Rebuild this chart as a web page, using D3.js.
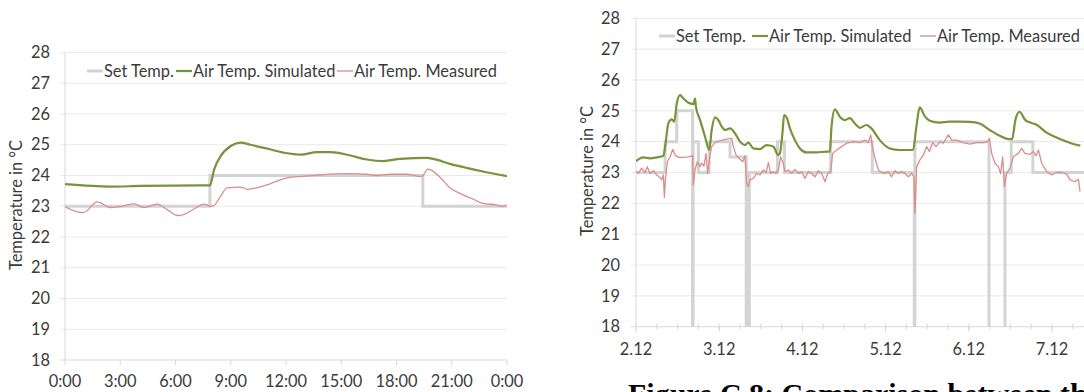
<!DOCTYPE html>
<html><head><meta charset="utf-8">
<script src="https://cdn.jsdelivr.net/npm/d3@7"></script>
<style>html,body{margin:0;padding:0;background:#fff;overflow:hidden}</style>
</head><body>
<svg id="c" width="1084" height="392"></svg>
<script>
// ---------- DATA ----------
const seriesNames = ["Set Temp.", "Air Temp. Simulated", "Air Temp. Measured"];
const yTicks = [18,19,20,21,22,23,24,25,26,27,28];
const leftTickLabels = ["0:00","3:00","6:00","9:00","12:00","15:00","18:00","21:00","0:00"];
const rightTickLabels = ["2.12","3.12","4.12","5.12","6.12","7.12"];

// Left chart (one day, hours)
const leftSetHour = [0, 7.87, 19.43, 24];
const leftSetTemp = [23, 24, 23, 23];
const leftSimHour = [0,2.5,4.1,7.4,7.87,8.1,8.45,9.0,9.53,10.07,11.0,11.9,12.8,13.7,14.4,15.5,16.4,17.3,18.2,19.65,20.0,20.9,21.8,22.7,24.0];
const leftSimTemp = [23.72,23.64,23.66,23.68,23.68,24.2,24.63,24.96,25.07,25.0,24.87,24.74,24.68,24.76,24.76,24.65,24.52,24.47,24.54,24.57,24.54,24.38,24.25,24.13,23.98];
const leftMeasHour = [0,0.67,1.03,1.75,2.48,3.0,3.74,4.28,5.0,5.55,6.1,6.4,7.0,7.54,7.9,8.08,8.45,8.8,9.53,9.9,10.4,11.0,11.5,12.06,12.8,13.7,14.6,15.5,16.4,16.9,17.7,18.6,19.1,19.38,19.7,19.93,20.4,20.9,21.5,22.2,22.7,23.45,23.7,24.0];
const leftMeasTemp = [22.98,22.82,22.8,23.14,22.96,22.99,23.08,22.96,23.07,22.89,22.7,22.72,22.91,23.07,23.0,23.02,23.33,23.6,23.62,23.55,23.6,23.7,23.82,23.92,23.97,24.01,24.05,24.06,24.04,24.0,24.04,24.04,23.98,23.97,24.21,24.16,23.92,23.6,23.4,23.22,23.09,23.04,23.0,23.04];

// Right chart (days after 2.12); setpoint "off" periods drop below the axis range
const rightSetDay  = [0,0.35,0.49,0.68,0.686,0.75,0.88,1.13,1.325,1.362,1.70,1.785,2.34,2.84,3.345,3.352,4.243,4.435,4.51,4.77,6];
const rightSetTemp = [23,24,25,15,24,23,24,23.5,15,23,24,23,24,23,15,24,15,23,24,23,23];
const rightSimDay  = [0,0.088,0.168,0.248,0.33,0.35,0.39,0.43,0.46,0.49,0.53,0.57,0.63,0.69,0.71,0.72,0.77,0.83,0.88,0.91,0.95,0.99,1.03,1.07,1.13,1.19,1.25,1.31,1.35,1.41,1.49,1.57,1.65,1.71,1.73,1.76,1.78,1.81,1.85,1.91,1.97,2.05,2.17,2.29,2.33,2.35,2.39,2.45,2.51,2.57,2.63,2.69,2.77,2.83,2.93,3.05,3.17,3.33,3.37,3.41,3.47,3.53,3.65,3.77,3.89,4.01,4.13,4.25,4.38,4.48,4.52,4.56,4.61,4.68,4.74,4.82,4.92,5.06,5.18,5.28,5.34];
const rightSimTemp = [23.37,23.49,23.46,23.49,23.54,23.84,24.6,24.72,24.65,25.24,25.51,25.4,25.26,25.22,25.4,25.13,24.7,24.16,23.73,24.38,24.79,24.7,24.49,24.38,24.43,24.27,24.0,23.89,23.97,23.78,23.76,23.89,23.84,23.57,23.62,24.27,24.86,24.79,24.43,24.05,23.78,23.65,23.65,23.68,23.68,24.49,25.05,24.81,24.7,24.76,24.59,24.45,24.54,24.43,24.05,23.78,23.73,23.73,24.49,25.11,24.83,24.68,24.62,24.65,24.65,24.64,24.59,24.38,24.18,24.08,24.08,24.7,24.97,24.7,24.62,24.54,24.32,24.13,24.0,23.91,23.87];
const rightMeasDay = [0,0.028,0.068,0.108,0.136,0.168,0.208,0.248,0.288,0.308,0.329,0.341,0.353,0.377,0.409,0.441,0.469,0.509,0.569,0.629,0.681,0.689,0.709,0.737,0.769,0.789,0.817,0.841,0.861,0.881,0.909,0.95,1.01,1.09,1.15,1.17,1.202,1.25,1.282,1.31,1.33,1.35,1.37,1.41,1.45,1.49,1.53,1.563,1.591,1.619,1.651,1.683,1.711,1.739,1.763,1.791,1.831,1.871,1.911,1.951,1.991,2.031,2.071,2.111,2.151,2.192,2.232,2.272,2.304,2.34,2.364,2.412,2.472,2.532,2.612,2.692,2.752,2.792,2.821,2.841,2.873,2.913,2.953,2.993,3.033,3.073,3.113,3.153,3.193,3.233,3.273,3.313,3.341,3.353,3.373,3.413,3.454,3.494,3.526,3.566,3.606,3.654,3.694,3.754,3.794,3.854,3.934,4.014,4.095,4.175,4.227,4.247,4.275,4.315,4.355,4.383,4.407,4.427,4.455,4.495,4.535,4.595,4.635,4.675,4.736,4.776,4.808,4.836,4.876,4.936,4.996,5.056,5.116,5.176,5.216,5.276,5.317,5.337];
const rightMeasTemp = [23.03,22.97,23.14,23.0,23.19,22.97,23.06,22.92,22.84,22.76,22.92,22.19,22.76,23.35,23.51,23.75,23.57,23.49,23.49,23.51,23.55,22.6,23.08,23.35,23.19,23.3,23.21,23.62,22.97,23.41,23.84,23.97,24.03,24.08,24.11,23.84,23.57,23.43,23.35,23.54,22.65,22.54,22.76,22.81,22.97,22.92,23.08,23.0,23.32,22.97,23.03,22.97,23.08,23.51,23.35,23.03,23.08,22.97,23.1,22.97,23.03,22.81,23.03,22.97,22.86,23.06,22.97,22.7,22.97,23.03,23.62,23.73,23.84,23.95,24.0,23.97,24.05,23.97,24.22,23.84,23.46,23.08,23.0,22.97,23.03,22.86,23.06,22.97,23.03,22.97,22.86,22.97,22.86,21.68,23.19,23.41,23.57,23.84,23.68,23.97,23.84,24.0,23.95,24.22,24.05,24.05,23.97,23.92,23.97,23.97,24.0,24.11,23.62,23.3,23.19,22.97,23.51,22.54,22.97,23.14,23.51,23.62,23.78,23.62,23.59,23.68,23.54,23.73,23.3,23.03,22.92,23.0,23.0,22.95,22.76,22.7,22.78,22.38];

// ---------- STYLE ----------
const colors = ["#d3d3d3", "#77933c", "#da8e8c"];
const widths = [3, 2.2, 1.3];
const textColor = "#3b3b3b";
const fontFamily = "Lato, 'Open Sans', sans-serif";

const svg = d3.select("#c");

// fit font size so that legend text matches reference width
const probe = svg.append("text").attr("font-family", fontFamily).attr("font-size", 17).text("Air Temp. Measured");
const fs = 17 * 143 / probe.node().getComputedTextLength();
probe.remove();

function zip(xs, ys){ return xs.map((x,i)=>[x, ys[i]]); }

function drawChart(cfg){
  const g = svg.append("g");
  const x = d3.scaleLinear().domain(cfg.xDomain).range(cfg.xRange);
  const y = d3.scaleLinear().domain([18,28]).range(cfg.yRange);
  const x0 = cfg.xRange[0], x1 = cfg.xRange[1];

  g.append("clipPath").attr("id", cfg.id).append("rect")
    .attr("x", x0).attr("y", y(28) - 5).attr("width", x1 - x0).attr("height", y(18) - y(28) + 5);

  // gridlines
  g.selectAll(".grid").data(yTicks.filter(t=>t>18)).join("line")
    .attr("x1", x0-5).attr("x2", x1).attr("y1", d=>y(d)).attr("y2", d=>y(d))
    .attr("stroke", "#e9e9e9").attr("stroke-width", 1);
  // axes lines
  g.append("line").attr("x1", x0).attr("x2", x0).attr("y1", y(28)).attr("y2", y(18))
    .attr("stroke", "#d9d9d9");
  g.append("line").attr("x1", x0-5).attr("x2", x1).attr("y1", y(18)).attr("y2", y(18))
    .attr("stroke", "#d9d9d9");
  // y labels
  g.selectAll(".yl").data(yTicks).join("text")
    .attr("x", cfg.yLabelX).attr("y", d=>y(d)).attr("dy", "0.35em")
    .attr("text-anchor", "end").attr("font-family", fontFamily).attr("font-size", fs)
    .attr("fill", textColor).text(d=>d);
  // x ticks
  const majors = d3.range(cfg.xDomain[0], cfg.xDomain[1] + 1e-9, cfg.majorStep);
  g.selectAll(".xt").data(majors).join("line")
    .attr("x1", d=>x(d)).attr("x2", d=>x(d)).attr("y1", y(18)).attr("y2", y(18)+5)
    .attr("stroke", "#d9d9d9");
  if (cfg.minorStep){
    const minors = d3.range(cfg.xDomain[0], cfg.xDomain[1] + 1e-9, cfg.minorStep);
    g.selectAll(".xm").data(minors).join("line")
      .attr("x1", d=>x(d)).attr("x2", d=>x(d)).attr("y1", y(18)-3).attr("y2", y(18)+3)
      .attr("stroke", "#d9d9d9");
  }
  g.selectAll(".xl").data(cfg.tickLabels).join("text")
    .attr("x", (d,i)=>x(majors[i])).attr("y", y(18)+cfg.xLabelDy).attr("dy", "0.35em")
    .attr("text-anchor", "middle").attr("font-family", fontFamily).attr("font-size", fs)
    .attr("fill", textColor).text(d=>d);
  // y title
  g.append("text").attr("transform", `translate(${cfg.titleX},${cfg.titleY}) rotate(-90)`)
    .attr("text-anchor", "middle").attr("dy", "0.35em")
    .attr("font-family", fontFamily).attr("font-size", fs).attr("fill", textColor)
    .text("Temperature in °C");

  // series
  const plot = g.append("g").attr("clip-path", `url(#${cfg.id})`);
  const lineStep = d3.line().x(d=>x(d[0])).y(d=>y(d[1])).curve(d3.curveStepAfter);
  const lineSmooth = d3.line().x(d=>x(d[0])).y(d=>y(d[1])).curve(d3.curveMonotoneX);
  const lineMeas = d3.line().x(d=>x(d[0])).y(d=>y(d[1])).curve(cfg.measCurve);
  plot.append("path").datum(cfg.set).attr("d", lineStep).attr("fill","none")
    .attr("stroke", colors[0]).attr("stroke-width", widths[0]);
  plot.append("path").datum(cfg.sim).attr("d", lineSmooth).attr("fill","none")
    .attr("stroke", colors[1]).attr("stroke-width", widths[1]).attr("stroke-linejoin","round");
  plot.append("path").datum(cfg.meas).attr("d", lineMeas).attr("fill","none")
    .attr("stroke", colors[2]).attr("stroke-width", widths[2]).attr("stroke-linejoin","round");

  // legend
  seriesNames.forEach((name, i) => {
    const lx = cfg.legendX[i];
    g.append("line").attr("x1", lx).attr("x2", lx+16).attr("y1", cfg.legendY).attr("y2", cfg.legendY)
      .attr("stroke", colors[i]).attr("stroke-width", widths[i]);
    g.append("text").attr("x", lx+17).attr("y", cfg.legendY).attr("dy", "0.35em")
      .attr("font-family", fontFamily).attr("font-size", fs).attr("fill", textColor).text(name);
  });
}

drawChart({
  id: "clipL",
  xDomain: [0, 24], xRange: [65, 507], yRange: [360, 52.5],
  majorStep: 3, minorStep: null, tickLabels: leftTickLabels,
  yLabelX: 50, xLabelDy: 21, titleX: 16, titleY: 205,
  legendX: [87, 176, 337], legendY: 71,
  set: zip(leftSetHour, leftSetTemp), sim: zip(leftSimHour, leftSimTemp), meas: zip(leftMeasHour, leftMeasTemp),
  measCurve: d3.curveMonotoneX
});

drawChart({
  id: "clipR",
  xDomain: [0, 6], xRange: [636, 1135.2], yRange: [326.7, 18.3],
  majorStep: 1, minorStep: 0.25, tickLabels: rightTickLabels,
  yLabelX: 620, xLabelDy: 23, titleX: 587, titleY: 171,
  legendX: [659, 752, 920], legendY: 36,
  set: zip(rightSetDay, rightSetTemp), sim: zip(rightSimDay, rightSimTemp), meas: zip(rightMeasDay, rightMeasTemp),
  measCurve: d3.curveLinear
});

// caption (cut off by the page edge, as in the reference)
svg.append("text").attr("x", 628).attr("y", 404)
  .attr("font-family", "'Liberation Serif', 'Times New Roman', serif").attr("font-weight", "bold")
  .attr("font-size", 30).attr("fill", "#000")
  .text("Figure C.8: Comparison between the");
</script>
</body></html>
